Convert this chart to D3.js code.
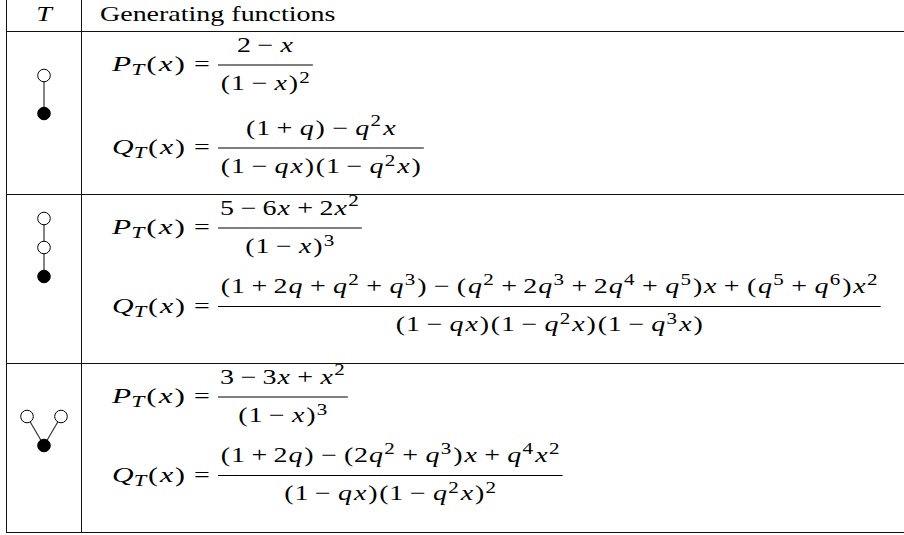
<!DOCTYPE html>
<html><head><meta charset="utf-8">
<script src="https://cdn.jsdelivr.net/npm/d3@7/dist/d3.min.js"></script>
<style>html,body{margin:0;padding:0;background:#fff;overflow:hidden}text{fill:#000}</style>
</head><body>
<svg id="chart" width="904" height="535"></svg>
<script>
// ---------- data ----------
const headers = ["T", "Generating functions"];
const trees = [
  {type: "root", children: [{type: "leaf"}]},
  {type: "root", children: [{type: "leaf", children: [{type: "leaf"}]}]},
  {type: "root", children: [{type: "leaf"}, {type: "leaf"}]}
];
const pLabel = "P_T(x)";
const qLabel = "Q_T(x)";
const pNumerators = ["2-x", "5-6x+2x^2", "3-3x+x^2"];
const pDenominators = ["(1-x)^2", "(1-x)^3", "(1-x)^3"];
const qNumerators = ["(1+q)-q^2x", "(1+2q+q^2+q^3)-(q^2+2q^3+2q^4+q^5)x+(q^5+q^6)x^2", "(1+2q)-(2q^2+q^3)x+q^4x^2"];
const qDenominators = ["(1-qx)(1-q^2x)", "(1-qx)(1-q^2x)(1-q^3x)", "(1-qx)(1-q^2x)^2"];

// ---------- layout ----------
const W = 904, H = 535;
const FS = 21;             // vertical font size
const SX = 28 / 21;        // horizontal stretch of the glyphs
const FONT = "'Liberation Serif','Times New Roman',serif";
const BIN = 1.02;          // width of a binary operator box, in em
const rowIdx = [0, 1, 2];
const rowTop = d3.scaleOrdinal().domain(rowIdx).range([31.5, 194.5, 363.5]);
const tableBottom = 532.5;
const colX = d3.scaleOrdinal().domain([0, 1]).range([6.5, 81.5]);
const levelGap = d3.scaleOrdinal().domain(rowIdx).range([38, 29, 29]);
const qGap = d3.scaleOrdinal().domain(rowIdx).range([83, 78.5, 78.5]);

const svg = d3.select("#chart").attr("viewBox", `0 0 ${W} ${H}`)
  .style("font-family", FONT);

const measurer = svg.append("text").attr("x", -2000).attr("y", -2000).style("font-family", FONT);
function tw(t, size, italic) {
  measurer.text(t).style("font-size", size + "px").style("font-style", italic ? "italic" : "normal");
  return measurer.node().getComputedTextLength();
}

function parse(s) {
  const atoms = [];
  for (let i = 0; i < s.length; i++) {
    const c = s[i];
    if (c === "^" || c === "_") {
      const last = atoms[atoms.length - 1];
      if (c === "^") last.sup = s[i + 1]; else last.sub = s[i + 1];
      i++; continue;
    }
    if (c === "+" || c === "-") atoms.push({kind: "bin", text: c === "-" ? "\u2212" : "+"});
    else if (c === "=") atoms.push({kind: "rel", text: "="});
    else if (/[a-zA-Z]/.test(c)) atoms.push({kind: "ord", text: c, italic: true});
    else atoms.push({kind: "ord", text: c, italic: false, paren: c === "(" || c === ")"});
  }
  return atoms;
}

// returns items in unscaled units (x), widths in unscaled units
function layout(str, cramped) {
  const atoms = parse(str);
  const items = [];
  let x = 0;
  const ss = FS * 0.75;
  const raise = cramped ? 7 : 8.5;
  atoms.forEach(a => {
    if (a.kind === "bin") {
      const w = tw(a.text, FS, false), box = FS * BIN;
      items.push({x: x + (box - w) / 2, dy: 0, text: a.text, size: FS, italic: false});
      x += box; return;
    }
    const side = a.italic ? FS * 0.035 : (a.paren ? FS * 0.03 : 0);
    x += side;
    items.push({x, dy: 0, text: a.text, size: FS, italic: a.italic});
    x += tw(a.text, FS, a.italic);
    if (a.sub) {
      items.push({x, dy: 4.3, text: a.sub, size: ss, italic: true});
      x += tw(a.sub, ss, true) + FS * 0.03;
    } else {
      x += side;
    }
    if (a.sup) {
      const ic = FS * 0.01;
      items.push({x: x + ic, dy: -raise, text: a.sup, size: ss, italic: false});
      x += ic + tw(a.sup, ss, false) + FS * 0.04;
    }
  });
  return {items, width: x};
}

function draw(g, lay, x0, baseline, sx) {
  const s = sx || SX;
  g.append("g").attr("transform", `translate(${x0},${baseline}) scale(${s},1)`)
    .selectAll("text").data(lay.items).join("text")
    .attr("x", d => d.x)
    .attr("y", d => d.dy)
    .style("font-size", d => d.size + "px")
    .style("font-style", d => d.italic ? "italic" : "normal")
    .text(d => d.text);
}

const LABEL_X = 111, LABEL_W = 75, EQ_X = 202, FRAC_X = 218, PAD = 2;
function equation(g, label, num, den, axis) {
  const ll = layout(label, false);
  draw(g, ll, LABEL_X, axis + 6, LABEL_W / ll.width);
  g.append("text").attr("transform", `translate(${EQ_X},${axis + 6}) scale(${SX},1)`)
    .attr("text-anchor", "middle").style("font-size", FS + "px").text("=");
  const nl = layout(num, false), dl = layout(den, true);
  const bw = Math.max(nl.width, dl.width) * SX + 2 * PAD;
  g.append("line").attr("x1", FRAC_X).attr("x2", FRAC_X + bw).attr("y1", axis).attr("y2", axis)
    .attr("stroke", "#000").attr("stroke-width", 1.1);
  draw(g, nl, FRAC_X + (bw - nl.width * SX) / 2, axis - 13.5);
  draw(g, dl, FRAC_X + (bw - dl.width * SX) / 2, axis + 24.5);
}

// ---------- table rules ----------
const rules = svg.append("g").attr("stroke", "#111").attr("stroke-width", 1.1).attr("shape-rendering", "crispEdges");
rules.selectAll(".h").data(rowIdx.map(rowTop).concat([tableBottom])).join("line")
  .attr("x1", colX(0)).attr("x2", W).attr("y1", d => d).attr("y2", d => d);
rules.selectAll(".v").data([0, 1]).join("line")
  .attr("x1", d => colX(d)).attr("x2", d => colX(d)).attr("y1", 0).attr("y2", tableBottom);

// ---------- header ----------
svg.append("text").attr("transform", `translate(${(colX(0) + colX(1)) / 2},20.7) scale(${SX},1)`)
  .attr("text-anchor", "middle")
  .style("font-size", FS + "px").style("font-style", "italic").text(headers[0]);
svg.append("text").attr("transform", `translate(100,20.7) scale(${SX},1)`)
  .style("font-size", FS + "px").text(headers[1]);

// ---------- rows ----------
rowIdx.forEach(i => {
  const top = rowTop(i);
  // tree icon
  const root = d3.hierarchy(trees[i]);
  d3.tree().nodeSize([34, levelGap(i)])(root);
  const g = svg.append("g").attr("transform", `translate(${(colX(0) + colX(1)) / 2},${top + 82})`);
  g.selectAll("line").data(root.links()).join("line")
    .attr("x1", d => d.source.x).attr("y1", d => -d.source.y)
    .attr("x2", d => d.target.x).attr("y2", d => -d.target.y)
    .attr("stroke", "#333").attr("stroke-width", 1.2);
  g.selectAll("circle").data(root.descendants()).join("circle")
    .attr("cx", d => d.x).attr("cy", d => -d.y).attr("r", 6.3)
    .attr("fill", d => d.data.type === "root" ? "#000" : "#fff")
    .attr("stroke", "#000").attr("stroke-width", 1);
  // equations
  const eg = svg.append("g");
  const pAxis = top + 33.5;
  equation(eg, pLabel, pNumerators[i], pDenominators[i], pAxis);
  equation(eg, qLabel, qNumerators[i], qDenominators[i], pAxis + qGap(i));
});
measurer.remove();
</script>
</body></html>
